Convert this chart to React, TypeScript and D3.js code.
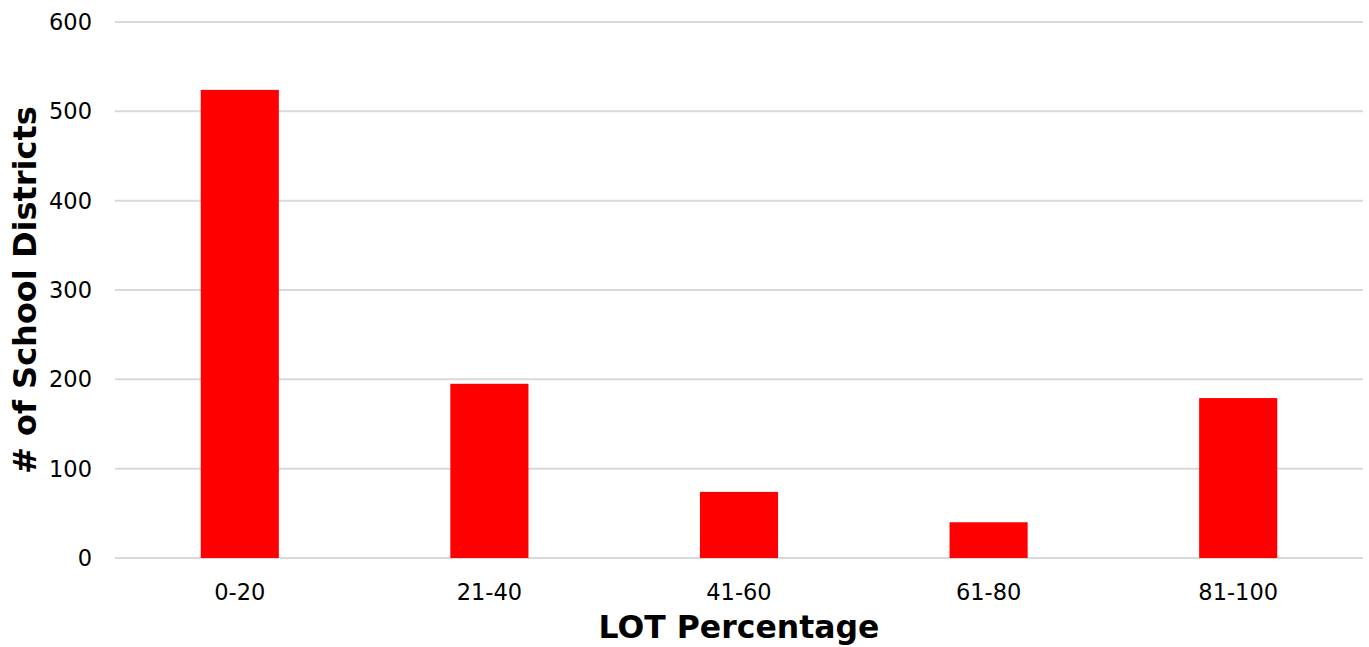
import React from "react";
import * as d3 from "d3";

const categories = ["0-20", "21-40", "41-60", "61-80", "81-100"];
const values = [524, 195, 74, 40, 179];
const yTicks = [0, 100, 200, 300, 400, 500, 600];

const W = 1369;
const H = 647;
const margin = { left: 115, right: 6, top: 22, bottom: 89 };
const FONT = "'DejaVu Sans', Verdana, sans-serif";

export default function App() {
  const x = d3
    .scaleBand<string>()
    .domain(categories)
    .range([margin.left, W - margin.right])
    .paddingInner(0.687)
    .paddingOuter(0.3435);
  const y = d3.scaleLinear().domain([0, 600]).range([H - margin.bottom, margin.top]);

  return (
    <svg
      width={W}
      height={H}
      style={{ position: "absolute", left: 0, top: 0, display: "block", background: "#fff" }}
    >
      {yTicks.map((t) => (
        <g key={t}>
          <line
            x1={margin.left}
            x2={W - margin.right}
            y1={y(t)}
            y2={y(t)}
            stroke="#d9d9d9"
            strokeWidth={2}
          />
          <text
            x={92}
            y={y(t)}
            dy="0.36em"
            textAnchor="end"
            fontFamily={FONT}
            fontSize={22.5}
            fill="#000"
          >
            {t}
          </text>
        </g>
      ))}
      {categories.map((c, i) => (
        <rect
          key={c}
          x={x(c)}
          y={y(values[i])}
          width={x.bandwidth()}
          height={y(0) - y(values[i])}
          fill="#ff0000"
        />
      ))}
      {categories.map((c) => (
        <text
          key={c}
          x={(x(c) as number) + x.bandwidth() / 2}
          y={600}
          textAnchor="middle"
          fontFamily={FONT}
          fontSize={22.5}
          fill="#000"
        >
          {c}
        </text>
      ))}
      <text
        x={739}
        y={638}
        textAnchor="middle"
        fontFamily={FONT}
        fontSize={31.5}
        fontWeight="bold"
        fill="#000"
      >
        LOT Percentage
      </text>
      <text
        transform={`translate(36, 290) rotate(-90)`}
        textAnchor="middle"
        fontFamily={FONT}
        fontSize={32}
        fontWeight="bold"
        fill="#000"
      >
        # of School Districts
      </text>
    </svg>
  );
}
